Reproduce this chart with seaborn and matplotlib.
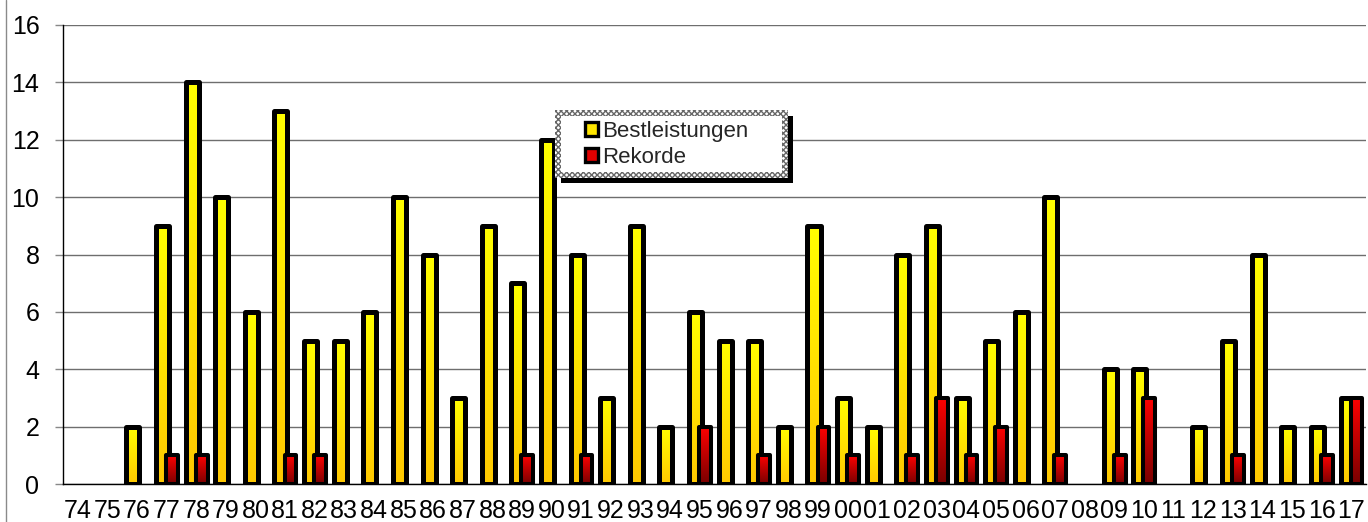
import numpy as np
import pandas as pd
import matplotlib
matplotlib.use("Agg")
import matplotlib.pyplot as plt
import seaborn as sns
from matplotlib.patches import Rectangle
from matplotlib.colors import LinearSegmentedColormap
from matplotlib.lines import Line2D

years = ["74", "75", "76", "77", "78", "79", "80", "81", "82", "83", "84", "85", "86", "87",
         "88", "89", "90", "91", "92", "93", "94", "95", "96", "97", "98", "99", "00", "01",
         "02", "03", "04", "05", "06", "07", "08", "09", "10", "11", "12", "13", "14", "15",
         "16", "17"]
bestleistungen = [0, 0, 2, 9, 14, 10, 6, 13, 5, 5, 6, 10, 8, 3,
                  9, 7, 12, 8, 3, 9, 2, 6, 5, 5, 2, 9, 3, 2,
                  8, 9, 3, 5, 6, 10, 0, 4, 4, 0, 2, 5, 8, 2,
                  2, 3]
rekorde = [0, 0, 0, 1, 1, 0, 0, 1, 1, 0, 0, 0, 0, 0,
           0, 1, 0, 1, 0, 0, 0, 2, 0, 1, 0, 2, 1, 0,
           1, 3, 1, 2, 0, 1, 0, 1, 3, 0, 0, 1, 0, 0,
           1, 3]
series_names = ["Bestleistungen", "Rekorde"]

sns.set_style("white")
plt.rcParams["font.family"] = ["Liberation Sans", "DejaVu Sans"]

W, H = 1368, 522
fig = plt.figure(figsize=(W / 100, H / 100), dpi=100)
ax = fig.add_axes([63 / W, 1 - 484 / H, (1366 - 63) / W, (484 - 25) / H])

df = pd.DataFrame({"Jahr": years, "Bestleistungen": bestleistungen, "Rekorde": rekorde})

sns.barplot(data=df, x="Jahr", y="Bestleistungen", color="#FFE600", saturation=1,
            width=0.44, edgecolor="black", linewidth=3.6, errorbar=None,
            label=series_names[0], zorder=2, ax=ax)
sns.barplot(data=df, x="Jahr", y="Rekorde", color="#E00000", saturation=1,
            width=0.40, edgecolor="black", linewidth=2.9, errorbar=None,
            label=series_names[1], zorder=3, ax=ax)

cont_best, cont_rek = ax.containers[0], ax.containers[1]

# legend (created before the gradient fill replaces the face colours)
leg = ax.legend(handles=[cont_best, cont_rek], labels=series_names, frameon=False,
                loc="upper left", bbox_to_anchor=(585 / W, 1 - 121 / H),
                bbox_transform=fig.transFigure, borderaxespad=0, borderpad=0,
                fontsize=16, handlelength=0.6, handleheight=0.6, handletextpad=0.15,
                labelspacing=0.22)
for h in leg.legend_handles:
    h.set_linewidth(2.4)
leg.set_zorder(20)

# legend box with dotted border and shadow
def px_rect(x0, y0, x1, y1, **kw):
    r = Rectangle((x0 / W, 1 - y1 / H), (x1 - x0) / W, (y1 - y0) / H,
                  transform=fig.transFigure, clip_on=False, **kw)
    ax.add_artist(r)
    return r

px_rect(561, 116, 793, 183, facecolor="black", edgecolor="none", zorder=10)
px_rect(555, 110, 788, 178, facecolor="white", edgecolor="#666666", hatch="xxxxxx",
        linewidth=0, zorder=11)
px_rect(561, 116, 782, 172, facecolor="white", edgecolor="none", zorder=12)

# shift bars into their overlapping layout and hide empty ones
for p in cont_best:
    p.set_x(p.get_x() - 0.14)
for p in cont_rek:
    p.set_x(p.get_x() + 0.18)

cmap_y = LinearSegmentedColormap.from_list("y", ["#FFC800", "#FFFF00"])
cmap_r = LinearSegmentedColormap.from_list("r", ["#780000", "#FF0000"])
grad = np.linspace(0, 1, 256).reshape(-1, 1)

for cont, cmap, z in [(cont_best, cmap_y, 2), (cont_rek, cmap_r, 3)]:
    for p in cont:
        h = p.get_height()
        if h <= 0:
            p.set_visible(False)
            continue
        x0 = p.get_x()
        im = ax.imshow(grad, cmap=cmap, origin="lower", aspect="auto",
                       extent=[x0, x0 + p.get_width(), 0, h], zorder=z - 0.05,
                       interpolation="bilinear")
        im.set_clip_path(p)
        p.set_facecolor("none")
        p.set_joinstyle("round")

ax.set_xlim(-0.5, len(years) - 0.5)
ax.set_ylim(0, 16)
ax.set_yticks(range(0, 17, 2))
ax.set_xticks(np.arange(-0.5, len(years), 1), minor=True)
ax.set_xlabel("")
ax.set_ylabel("")

ax.yaxis.grid(True, color="#6e6e6e", linewidth=1)
ax.set_axisbelow(True)
for s in ["top", "right"]:
    ax.spines[s].set_visible(False)
for s in ["left", "bottom"]:
    ax.spines[s].set_color("black")
    ax.spines[s].set_linewidth(1)

ax.tick_params(axis="x", which="major", length=0, pad=11, labelsize=18, colors="black")
ax.tick_params(axis="x", which="minor", length=6, width=1, color="#888888", direction="out")
ax.tick_params(axis="y", length=6, width=1, color="#888888", pad=11, labelsize=18,
               labelcolor="black", direction="out", left=True)

fig.lines.append(Line2D([6 / W, 6 / W], [0, 1], transform=fig.transFigure,
                        color="#8a8a8a", linewidth=1))

fig.savefig("out.png", dpi=100)
